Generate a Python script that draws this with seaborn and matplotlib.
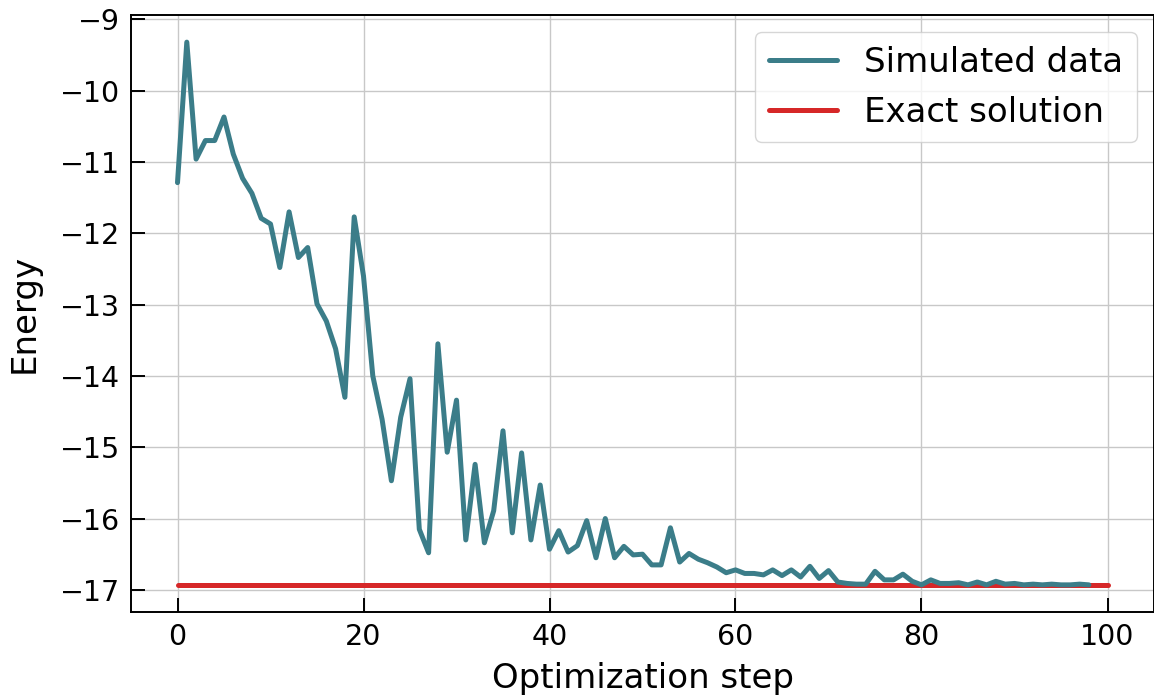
import numpy as np
import pandas as pd
import matplotlib
matplotlib.use("Agg")
import matplotlib.pyplot as plt
import seaborn as sns

# Energy per optimization step of the variational run
steps = list(range(99))
energy = [
    -11.29, -9.32, -10.96, -10.70, -10.70, -10.37, -10.89, -11.23, -11.44, -11.79,
    -11.87, -12.48, -11.70, -12.34, -12.20, -12.99, -13.23, -13.62, -14.30, -11.77,
    -12.60, -14.00, -14.61, -15.47, -14.58, -14.04, -16.15, -16.48, -13.55, -15.07,
    -14.34, -16.30, -15.24, -16.34, -15.89, -14.77, -16.20, -15.08, -16.30, -15.53,
    -16.43, -16.17, -16.47, -16.38, -16.03, -16.55, -16.00, -16.55, -16.39, -16.51,
    -16.50, -16.65, -16.65, -16.13, -16.61, -16.49, -16.57, -16.62, -16.68, -16.76,
    -16.72, -16.77, -16.77, -16.79, -16.72, -16.80, -16.72, -16.82, -16.67, -16.84,
    -16.73, -16.89, -16.91, -16.92, -16.92, -16.74, -16.86, -16.86, -16.78, -16.88,
    -16.93, -16.86, -16.91, -16.91, -16.90, -16.93, -16.89, -16.93, -16.88, -16.92,
    -16.91, -16.93, -16.92, -16.93, -16.92, -16.93, -16.93, -16.92, -16.93,
]
exact_steps = [0, 100]
exact_energy = -16.93

sim_color = "#3b7d89"
exact_color = "#d62728"

sns.set_style("whitegrid")
plt.rcParams["font.family"] = ["DejaVu Sans"]
plt.rcParams["text.color"] = "black"
plt.rcParams["axes.labelcolor"] = "black"
plt.rcParams["xtick.color"] = "black"
plt.rcParams["ytick.color"] = "black"

fig = plt.figure(figsize=(11.54, 6.95), dpi=100)
ax = fig.add_axes([131 / 1154, 83 / 695, 1023 / 1154, 597 / 695])

sim_df = pd.DataFrame({"step": steps, "energy": energy})
exact_df = pd.DataFrame({"step": exact_steps, "energy": [exact_energy] * len(exact_steps)})

sns.lineplot(data=sim_df, x="step", y="energy", ax=ax, color=sim_color,
             linewidth=3.6, label="Simulated data", zorder=3)
sns.lineplot(data=exact_df, x="step", y="energy", ax=ax, color=exact_color,
             linewidth=3.6, label="Exact solution", zorder=2)

ax.set_xlabel("Optimization step", fontsize=24.5, labelpad=8)
ax.set_ylabel("Energy", fontsize=24.5, labelpad=14)
ax.set_xticks([0, 20, 40, 60, 80, 100])
ax.set_yticks(np.arange(-17, -8, 1))
ax.tick_params(axis="both", direction="in", length=10, width=1.4,
               labelsize=20.5, color="black", labelcolor="black",
               left=True, bottom=True, pad=8)

ax.grid(True, color="#c8c8c8", linewidth=1.0)
for side, spine in ax.spines.items():
    spine.set_visible(True)
    spine.set_color("black")
    spine.set_linewidth(1.4)

leg = ax.legend(loc="upper right", fontsize=24.5, handlelength=2.0,
                frameon=True)
leg.get_frame().set_edgecolor("#cccccc")

fig.savefig("out.png", dpi=100)
